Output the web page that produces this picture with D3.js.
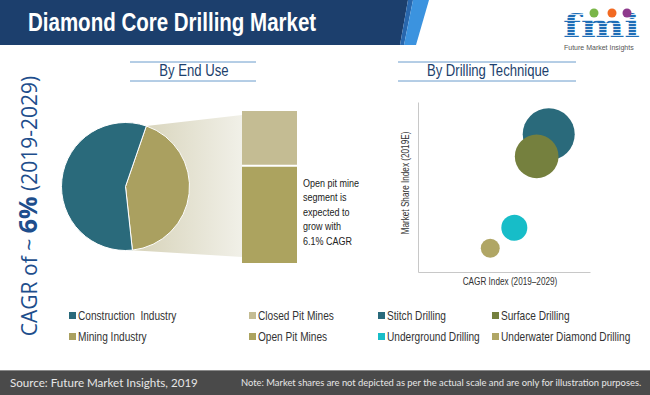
<!DOCTYPE html>
<html>
<head>
<meta charset="utf-8">
<script src="https://cdn.jsdelivr.net/npm/d3@7"></script>
<style>
  body { margin: 0; background: #fff; }
  svg { display: block; }
  .narrow { font-family: "Liberation Sans", Arial, sans-serif; }
</style>
</head>
<body>
<svg id="chart" width="650" height="395"></svg>
<script>
// end use pie
const endUseLabels = ["Mining Industry", "Construction  Industry"];
const endUseShare = [43, 57];
const endUseColors = ["#aaa060", "#2a6a7b"];

// mining split (stacked bar)
const pitLabels = ["Open Pit Mines", "Closed Pit Mines"];
const pitShare = [64, 36];
const pitColors = ["#aca35f", "#c4bc93"];

// drilling technique bubbles
const techniques = ["Stitch Drilling", "Surface Drilling", "Underground Drilling", "Underwater Diamond Drilling"];
const cagrIndex = [7.6, 6.9, 5.6, 4.2];
const shareIndex = [8.1, 6.8, 2.6, 1.4];
const bubbleSize = [6.8, 4.8, 1.7, 0.9];
const techColors = ["#2a6a7b", "#75803e", "#17bdc8", "#b0a665"];

const noteLines = ["Open pit mine", "segment is", "expected to", "grow with", "6.1% CAGR"];

// squeeze Liberation Sans horizontally so it reads like a narrow face
function squeeze(sel, k) {
    k = k || 0.82;
    sel.each(function() {
        let t = d3.select(this);
        let x = +t.attr("x") || 0;
        t.attr("x", x / k).attr("transform", (t.attr("transform") || "") + " scale(" + k + ",1)");
    });
}

function draw() {
    let svg = d3.select("#chart");
    let defs = svg.append("defs");

    // ---- header banner
    svg.append("path").attr("d", "M0,0H408L400,45H0Z").attr("fill", "#1c3f6d");
    svg.append("path").attr("d", "M408,0H413L404,45H400Z").attr("fill", "#2867ad");
    svg.append("path").attr("d", "M413,0H429L416,45H404Z").attr("fill", "#3b93df");
    svg.append("text").attr("class", "narrow")
        .attr("x", 28).attr("y", 31)
        .attr("font-size", 25).attr("font-weight", "bold")
        .attr("fill", "#fff")
        .text("Diamond Core Drilling Market")
        .call(squeeze, 0.82);

    // ---- logo
    let stripes = defs.append("pattern").attr("id", "stripes")
        .attr("patternUnits", "userSpaceOnUse").attr("width", 10).attr("height", 3);
    stripes.append("rect").attr("width", 10).attr("height", 2.2).attr("fill", "#1f6db6");
    svg.append("text")
        .attr("x", 563).attr("y", 37)
        .attr("font-family", "DejaVu Serif").attr("font-weight", "bold")
        .attr("font-size", 31)
        .attr("textLength", 77).attr("lengthAdjust", "spacingAndGlyphs")
        .attr("fill", "url(#stripes)")
        .text("fmi");
    [["#7ab648", 594], ["#f26a22", 612], ["#8e3a8c", 627]].forEach(function(c) {
        svg.append("circle").attr("cx", c[1]).attr("cy", 13).attr("r", 4.5).attr("fill", c[0]);
    });
    svg.append("text").attr("class", "narrow")
        .attr("x", 564).attr("y", 50)
        .attr("font-size", 7).attr("fill", "#555")
        .text("Future Market Insights");

    // ---- vertical CAGR text
    let vt = svg.append("text")
        .attr("transform", "translate(37,206) rotate(-90)")
        .attr("text-anchor", "middle")
        .attr("font-family", "Open Sans, sans-serif")
        .attr("font-size", 21).attr("fill", "#1e4e8c");
    vt.append("tspan").text("CAGR of ~ ");
    vt.append("tspan").attr("font-weight", "bold").attr("font-size", 25).text("6%");
    vt.append("tspan").text(" (2019-2029)");

    // ---- section titles
    function sectionTitle(cx, x0, x1, label) {
        svg.append("line").attr("x1", x0).attr("x2", x1).attr("y1", 62).attr("y2", 62)
            .attr("stroke", "#6a9ccc").attr("stroke-width", 1);
        svg.append("line").attr("x1", x0).attr("x2", x1).attr("y1", 81).attr("y2", 81)
            .attr("stroke", "#6a9ccc").attr("stroke-width", 1);
        svg.append("text").attr("class", "narrow")
            .attr("x", cx).attr("y", 76).attr("text-anchor", "middle")
            .attr("font-size", 16).attr("fill", "#1c3f6d")
            .text(label)
            .call(squeeze);
    }
    sectionTitle(194, 130, 256, "By End Use");
    sectionTitle(488, 398, 576, "By Drilling Technique");

    // ---- pie + stacked bar
    let cx = 125.5, cy = 186.5, r = 64;
    let pie = d3.pie().sort(null).startAngle(19 * Math.PI / 180).endAngle(19 * Math.PI / 180 + 2 * Math.PI);
    let arcs = pie(endUseShare);
    let arc = d3.arc().innerRadius(0).outerRadius(r);

    let barX = 242, barW = 55;
    let yBar = d3.scaleLinear().domain([0, 100]).range([263, 111]);
    let stack = d3.stack().keys(pitLabels.map(function(d, i) { return i; }))([pitShare]);

    // connector from mining slice to bar
    let grad = defs.append("linearGradient").attr("id", "conn")
        .attr("x1", "0%").attr("x2", "100%").attr("y1", "0%").attr("y2", "0%");
    grad.append("stop").attr("offset", "0%").attr("stop-color", "#d6d2b8");
    grad.append("stop").attr("offset", "100%").attr("stop-color", "#f1f0e8");
    let a0 = arcs[0].startAngle, a1 = arcs[0].endAngle;
    let p0 = [cx + r * Math.sin(a0), cy - r * Math.cos(a0)];
    let p1 = [cx + r * Math.sin(a1), cy - r * Math.cos(a1)];
    svg.append("path")
        .attr("d", "M" + p0 + "L" + barX + "," + (yBar(100) + 4) + "L" + barX + "," + (yBar(0) - 6) + "L" + p1 + "Z")
        .attr("fill", "url(#conn)");

    svg.append("g").attr("transform", "translate(" + cx + "," + cy + ")")
        .selectAll("path").data(arcs).enter().append("path")
        .attr("d", arc)
        .attr("fill", function(d, i) { return endUseColors[i]; })
        .attr("stroke", "#fff").attr("stroke-width", 1);

    svg.append("g").selectAll("rect").data(stack).enter().append("rect")
        .attr("x", barX).attr("width", barW)
        .attr("y", function(s) { return yBar(s[0][1]); })
        .attr("height", function(s) { return yBar(s[0][0]) - yBar(s[0][1]); })
        .attr("fill", function(s, i) { return pitColors[i]; });
    svg.append("line").attr("x1", barX).attr("x2", barX + barW)
        .attr("y1", yBar(pitShare[0])).attr("y2", yBar(pitShare[0]))
        .attr("stroke", "#fff").attr("stroke-width", 2);

    svg.append("g").selectAll("text").data(noteLines).enter().append("text")
        .attr("class", "narrow")
        .attr("font-size", 11).attr("fill", "#222")
        .attr("x", 303).attr("y", function(d, i) { return 187 + i * 14.4; })
        .text(function(d) { return d; })
        .call(squeeze);

    // ---- bubble chart
    let x = d3.scaleLinear().domain([0, 10]).range([418, 590]);
    let y = d3.scaleLinear().domain([0, 10]).range([272, 102]);
    let rs = d3.scaleSqrt().domain([0, 6.8]).range([0, 26]);

    svg.append("g").attr("transform", "translate(0,272)")
        .call(d3.axisBottom(x).tickValues([]).tickSizeOuter(0))
        .select(".domain").attr("stroke", "#c8c8c8");
    svg.append("g").attr("transform", "translate(418,0)")
        .call(d3.axisLeft(y).tickValues([]).tickSizeOuter(0))
        .select(".domain").attr("stroke", "#c8c8c8");

    svg.append("g").selectAll("circle").data(techniques).enter().append("circle")
        .attr("cx", function(d, i) { return x(cagrIndex[i]); })
        .attr("cy", function(d, i) { return y(shareIndex[i]); })
        .attr("r", function(d, i) { return rs(bubbleSize[i]); })
        .attr("fill", function(d, i) { return techColors[i]; });

    svg.append("text").attr("class", "narrow")
        .attr("transform", "translate(409,183) rotate(-90)")
        .attr("text-anchor", "middle").attr("font-size", 10).attr("fill", "#333")
        .text("Market Share Index (2019E)")
        .call(squeeze);
    svg.append("text").attr("class", "narrow")
        .attr("x", 510).attr("y", 285)
        .attr("text-anchor", "middle").attr("font-size", 10).attr("fill", "#333")
        .text("CAGR Index (2019\u20132029)")
        .call(squeeze);

    // ---- legend
    let legend = [
        [endUseLabels[1], endUseColors[1], 69, 316], [endUseLabels[0], endUseColors[0], 69, 337],
        [pitLabels[1], pitColors[1], 249, 316], [pitLabels[0], pitColors[0], 249, 337],
        [techniques[0], techColors[0], 378, 316], [techniques[2], techColors[2], 378, 337],
        [techniques[1], techColors[1], 492, 316], [techniques[3], techColors[3], 492, 337]
    ];
    let lg = svg.append("g").selectAll("g").data(legend).enter().append("g")
        .attr("transform", function(d) { return "translate(" + d[2] + "," + d[3] + ")"; });
    lg.append("rect").attr("x", 0).attr("y", -4).attr("width", 7).attr("height", 7)
        .attr("fill", function(d) { return d[1]; });
    lg.append("text").attr("class", "narrow")
        .attr("x", 9).attr("y", 4).attr("font-size", 12.5).attr("fill", "#333")
        .style("white-space", "pre")
        .text(function(d) { return d[0]; })
        .call(squeeze, 0.81);

    // ---- footer
    svg.append("rect").attr("x", 0).attr("y", 370).attr("width", 650).attr("height", 25).attr("fill", "#4a4a4a");
    svg.append("line").attr("x1", 0).attr("x2", 650).attr("y1", 370.5).attr("y2", 370.5).attr("stroke", "#8a8a8a");
    svg.append("text")
        .attr("x", 10).attr("y", 387)
        .attr("font-family", "Lato, sans-serif").attr("font-size", 11.6).attr("fill", "#e6e6e6")
        .text("Source: Future Market Insights, 2019");
    svg.append("text")
        .attr("x", 241).attr("y", 386)
        .attr("font-family", "Lato, sans-serif").attr("font-size", 9.4).attr("fill", "#e6e6e6")
        .text("Note: Market shares are not depicted as per the actual scale and are only for illustration purposes.");
}

document.addEventListener("DOMContentLoaded", draw);
</script>
</body>
</html>
